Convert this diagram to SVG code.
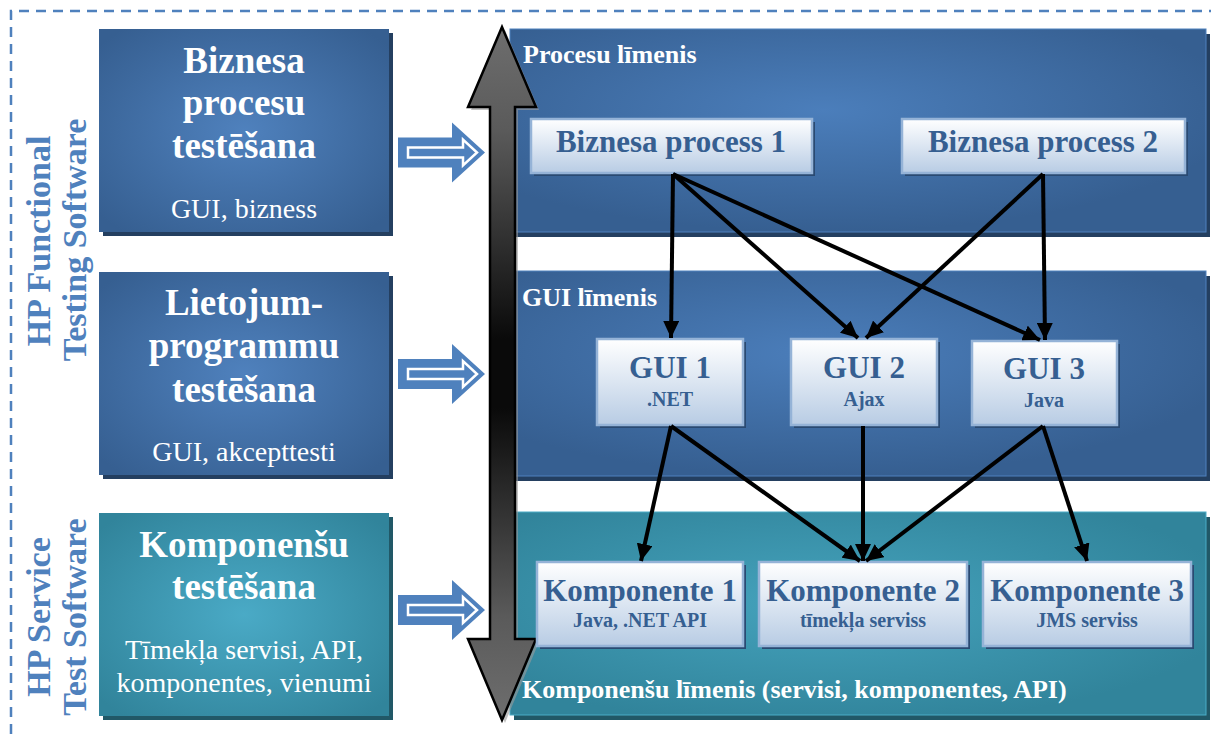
<svg xmlns="http://www.w3.org/2000/svg" width="1211" height="734" viewBox="0 0 1211 734">
  <defs>
    <radialGradient id="gBlue" cx="50%" cy="50%" r="65%">
      <stop offset="0" stop-color="#4f81bd"/>
      <stop offset="1" stop-color="#365f91"/>
    </radialGradient>
    <radialGradient id="gTeal" cx="50%" cy="50%" r="65%">
      <stop offset="0" stop-color="#4aaac6"/>
      <stop offset="1" stop-color="#31849b"/>
    </radialGradient>
    <radialGradient id="gPanelBlue" cx="45%" cy="40%" r="60%">
      <stop offset="0" stop-color="#4b7ebb"/>
      <stop offset="1" stop-color="#365f91"/>
    </radialGradient>
    <radialGradient id="gPanelTeal" cx="45%" cy="45%" r="60%">
      <stop offset="0" stop-color="#45a3bd"/>
      <stop offset="1" stop-color="#31849b"/>
    </radialGradient>
    <linearGradient id="gBox" x1="0" y1="0" x2="0" y2="1">
      <stop offset="0" stop-color="#ffffff"/>
      <stop offset="1" stop-color="#b8cce4"/>
    </linearGradient>
    <linearGradient id="gShaft" x1="0" y1="27" x2="0" y2="720" gradientUnits="userSpaceOnUse">
      <stop offset="0" stop-color="#6e6e6e"/>
      <stop offset="0.15" stop-color="#5a5a5a"/>
      <stop offset="0.45" stop-color="#0a0a0a"/>
      <stop offset="0.55" stop-color="#0a0a0a"/>
      <stop offset="0.85" stop-color="#5a5a5a"/>
      <stop offset="1" stop-color="#6e6e6e"/>
    </linearGradient>
    <marker id="head" viewBox="0 0 17 16" refX="17" refY="8" markerWidth="17" markerHeight="16" markerUnits="userSpaceOnUse" orient="auto">
      <path d="M0,0 L17,8 L0,16 Z" fill="#000"/>
    </marker>
    <path id="blockArrow" d="M0,-15 L54,-15 L54,-30 L87,0 L54,30 L54,15 L0,15 Z"/>
    <path id="blockArrowInner" d="M10,-5 L65,-5 L65,-13 L79,0 L65,13 L65,5 L10,5 Z"/>
  </defs>
  <style>
    .frame { fill: none; stroke: #4f81bd; stroke-width: 2.5; stroke-dasharray: 10 7; }
    .side { font-family: "Liberation Serif", "Times New Roman", serif; font-weight: bold; font-size: 34px; fill: #4f81bd; text-anchor: middle; }
    .head { font-family: "Liberation Serif", "Times New Roman", serif; font-weight: bold; font-size: 37px; fill: #ffffff; text-anchor: middle; }
    .sub { font-family: "Liberation Serif", "Times New Roman", serif; font-size: 28px; fill: #ffffff; text-anchor: middle; }
    .level { font-family: "Liberation Serif", "Times New Roman", serif; font-weight: bold; font-size: 26px; fill: #ffffff; }
    .lbl { font-family: "Liberation Serif", "Times New Roman", serif; font-weight: bold; font-size: 31px; fill: #365f91; text-anchor: middle; }
    .lbl2 { font-family: "Liberation Serif", "Times New Roman", serif; font-weight: bold; font-size: 20px; fill: #365f91; text-anchor: middle; }
    .box { fill: url(#gBox); stroke: #95b3d7; stroke-width: 2.5; }
    .boxShadow { fill: #2a4a72; }
    .shadowBlue { fill: #243f60; }
    .shadowTeal { fill: #215867; }
    .conn { stroke: #000; stroke-width: 4; fill: none; marker-end: url(#head); }
    .bArrow { fill: #4f81bd; }
    .bArrowIn { fill: #4f81bd; stroke: #ffffff; stroke-width: 2.5; }
  </style>

  <!-- dashed outer frame (top and left sides) -->
  <path class="frame" d="M11,734 L11,11 L1211,11"/>

  <!-- product labels -->
  <g id="hp-functional">
    <text class="side" transform="translate(50,241) rotate(-90)">HP Functional</text>
    <text class="side" transform="translate(86,240) rotate(-90)">Testing Software</text>
  </g>
  <g id="hp-service">
    <text class="side" transform="translate(50,617) rotate(-90)">HP Service</text>
    <text class="side" transform="translate(86,617) rotate(-90)">Test Software</text>
  </g>

  <!-- left column: testing kinds -->
  <g id="biznesa-procesu-testesana">
    <rect class="shadowBlue" x="103" y="33" width="290" height="203"/>
    <rect x="99" y="29" width="290" height="203" fill="url(#gBlue)"/>
    <text class="head" x="244" y="73">Biznesa</text>
    <text class="head" x="244" y="115">procesu</text>
    <text class="head" x="244" y="158">testēšana</text>
    <text class="sub" x="244" y="218">GUI, bizness</text>
  </g>
  <g id="lietojumprogrammu-testesana">
    <rect class="shadowBlue" x="103" y="276" width="290" height="203"/>
    <rect x="99" y="272" width="290" height="203" fill="url(#gBlue)"/>
    <text class="head" x="244" y="315">Lietojum-</text>
    <text class="head" x="244" y="358">programmu</text>
    <text class="head" x="244" y="402">testēšana</text>
    <text class="sub" x="244" y="461">GUI, akcepttesti</text>
  </g>
  <g id="komponensu-testesana">
    <rect class="shadowTeal" x="103" y="517" width="290" height="203"/>
    <rect x="99" y="513" width="290" height="203" fill="url(#gTeal)"/>
    <text class="head" x="244" y="557">Komponenšu</text>
    <text class="head" x="244" y="599">testēšana</text>
    <text class="sub" x="244" y="659">Tīmekļa servisi, API,</text>
    <text class="sub" x="244" y="692">komponentes, vienumi</text>
  </g>

  <!-- block arrows pointing at the levels -->
  <g id="block-arrows">
    <g transform="translate(398,152.5)">
      <use href="#blockArrow" class="bArrow"/>
      <use href="#blockArrowInner" class="bArrowIn"/>
    </g>
    <g transform="translate(398,374)">
      <use href="#blockArrow" class="bArrow"/>
      <use href="#blockArrowInner" class="bArrowIn"/>
    </g>
    <g transform="translate(398,610)">
      <use href="#blockArrow" class="bArrow"/>
      <use href="#blockArrowInner" class="bArrowIn"/>
    </g>
  </g>

  <!-- level panels -->
  <g id="procesu-limenis">
    <rect class="shadowBlue" x="514" y="34" width="696" height="203"/>
    <rect x="510" y="29" width="696" height="203" fill="url(#gPanelBlue)" stroke="#4f81bd" stroke-width="1"/>
    <text class="level" x="523" y="63">Procesu līmenis</text>
  </g>
  <g id="gui-limenis">
    <rect class="shadowBlue" x="514" y="276" width="696" height="205"/>
    <rect x="510" y="271" width="696" height="205" fill="url(#gPanelBlue)" stroke="#4f81bd" stroke-width="1"/>
    <text class="level" x="522" y="306">GUI līmenis</text>
  </g>
  <g id="komponensu-limenis">
    <rect class="shadowTeal" x="514" y="517" width="696" height="203"/>
    <rect x="510" y="512" width="696" height="203" fill="url(#gPanelTeal)" stroke="#4bacc6" stroke-width="1"/>
    <text class="level" x="522" y="698">Komponenšu līmenis (servisi, komponentes, API)</text>
  </g>

  <!-- vertical double-headed arrow spanning all levels -->
  <g id="level-axis">
    <path d="M505,30 L539,110 L518,110 L518,642 L539,642 L505,723 L471,642 L493,642 L493,110 L471,110 Z" fill="#9a9a9a" opacity="0.6"/>
    <path d="M502,27 L536,107 L515,107 L515,639 L536,639 L502,720 L468,639 L490,639 L490,107 L468,107 Z" fill="url(#gShaft)" stroke="#000" stroke-width="2.5" stroke-linejoin="miter"/>
  </g>

  <!-- process nodes -->
  <g id="biznesa-process-1">
    <rect class="boxShadow" x="534" y="122" width="281" height="54"/>
    <rect class="box" x="531" y="119" width="281" height="54"/>
    <text class="lbl" x="671" y="152">Biznesa process 1</text>
  </g>
  <g id="biznesa-process-2">
    <rect class="boxShadow" x="905" y="122" width="283" height="54"/>
    <rect class="box" x="902" y="119" width="283" height="54"/>
    <text class="lbl" x="1043" y="152">Biznesa process 2</text>
  </g>

  <!-- GUI nodes -->
  <g id="gui-1">
    <rect class="boxShadow" x="600" y="342" width="146" height="86"/>
    <rect class="box" x="597" y="339" width="146" height="86"/>
    <text class="lbl" x="670" y="378">GUI 1</text>
    <text class="lbl2" x="670" y="406">.NET</text>
  </g>
  <g id="gui-2">
    <rect class="boxShadow" x="794" y="342" width="146" height="86"/>
    <rect class="box" x="791" y="339" width="146" height="86"/>
    <text class="lbl" x="864" y="378">GUI 2</text>
    <text class="lbl2" x="864" y="406">Ajax</text>
  </g>
  <g id="gui-3">
    <rect class="boxShadow" x="975" y="344" width="145" height="84"/>
    <rect class="box" x="972" y="341" width="145" height="84"/>
    <text class="lbl" x="1044" y="379">GUI 3</text>
    <text class="lbl2" x="1044" y="407">Java</text>
  </g>

  <!-- component nodes -->
  <g id="komponente-1">
    <rect class="boxShadow" x="540" y="565" width="206" height="84"/>
    <rect class="box" x="537" y="562" width="206" height="84"/>
    <text class="lbl" x="640" y="601">Komponente 1</text>
    <text class="lbl2" x="640" y="627">Java, .NET API</text>
  </g>
  <g id="komponente-2">
    <rect class="boxShadow" x="762" y="565" width="208" height="84"/>
    <rect class="box" x="759" y="562" width="208" height="84"/>
    <text class="lbl" x="863" y="601">Komponente 2</text>
    <text class="lbl2" x="863" y="627">tīmekļa serviss</text>
  </g>
  <g id="komponente-3">
    <rect class="boxShadow" x="986" y="565" width="208" height="84"/>
    <rect class="box" x="983" y="562" width="208" height="84"/>
    <text class="lbl" x="1087" y="601">Komponente 3</text>
    <text class="lbl2" x="1087" y="627">JMS serviss</text>
  </g>

  <!-- connectors -->
  <g id="connectors">
    <line class="conn" x1="673" y1="174" x2="671" y2="338"/>
    <line class="conn" x1="673" y1="174" x2="858" y2="338"/>
    <line class="conn" x1="673" y1="174" x2="1040" y2="340"/>
    <line class="conn" x1="1043" y1="174" x2="866" y2="338"/>
    <line class="conn" x1="1043" y1="174" x2="1045" y2="340"/>
    <line class="conn" x1="671" y1="426" x2="641" y2="561"/>
    <line class="conn" x1="671" y1="426" x2="860" y2="561"/>
    <line class="conn" x1="863" y1="426" x2="863" y2="561"/>
    <line class="conn" x1="1043" y1="426" x2="866" y2="561"/>
    <line class="conn" x1="1043" y1="426" x2="1087" y2="561"/>
  </g>
</svg>
